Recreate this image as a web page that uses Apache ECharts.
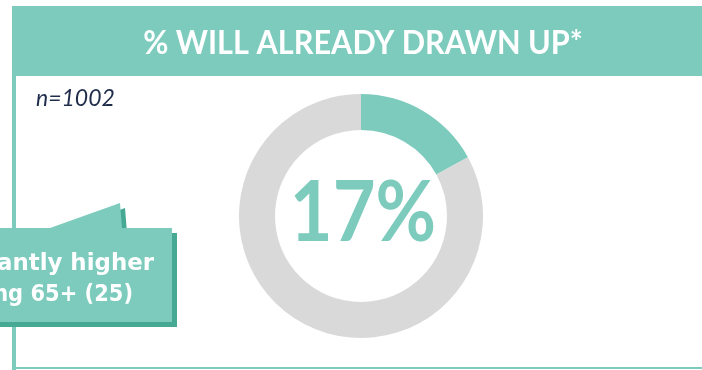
<!DOCTYPE html>
<html>
<head>
<meta charset="utf-8">
<script src="https://cdn.jsdelivr.net/npm/echarts@6/dist/echarts.min.js"></script>
<style>
  html, body { margin: 0; padding: 0; background: #ffffff; }
  #chart { width: 702px; height: 370px; }
</style>
</head>
<body>
<div id="chart"></div>
<script>
// Share of respondents who have already drawn up a will
const sliceNames = ['Drawn up', 'Not drawn up'];
const slicePct = [17, 83];
const sampleLabel = 'n=1002';
const headline = '% WILL ALREADY DRAWN UP*';
const calloutLines = ['Significantly higher', 'among 65+ (25)'];

const TEAL = '#7ccbbd';
const TEAL_DARK = '#45a994';
const GREY = '#d9d9d9';
const FONT = 'Lato, "Open Sans", sans-serif';
const WIDE = '"DejaVu Sans", Lato, sans-serif';

const chart = echarts.init(document.getElementById('chart'), null, { renderer: 'canvas' });

chart.setOption({
  animation: false,
  backgroundColor: '#ffffff',
  series: [{
    type: 'pie',
    center: [361, 216],
    radius: [86, 122],
    startAngle: 90,
    clockwise: true,
    silent: true,
    label: { show: false },
    labelLine: { show: false },
    itemStyle: { borderWidth: 0 },
    data: sliceNames.map((n, i) => ({
      name: n,
      value: slicePct[i],
      itemStyle: { color: i === 0 ? TEAL : GREY }
    }))
  }],
  graphic: [
    // panel frame: left rule and bottom rule
    { type: 'rect', shape: { x: 12, y: 6, width: 4, height: 364 }, style: { fill: TEAL }, z: 1 },
    { type: 'rect', shape: { x: 12, y: 367, width: 690, height: 2 }, style: { fill: TEAL }, z: 1 },
    // headline band
    { type: 'rect', shape: { x: 12, y: 6, width: 690, height: 70 }, style: { fill: TEAL }, z: 2 },
    {
      type: 'text', x: 363, y: 43, z: 3, scaleX: 0.93,
      style: {
        text: headline, fill: '#ffffff',
        font: 'bold 33px ' + FONT,
        textAlign: 'center', textVerticalAlign: 'middle'
      }
    },
    // sample size
    {
      type: 'text', x: 36, y: 99, z: 3,
      style: {
        text: sampleLabel, fill: '#1f2d4a',
        font: 'italic 23px ' + FONT,
        textAlign: 'left', textVerticalAlign: 'middle'
      }
    },
    // centre figure
    {
      type: 'text', x: 363, y: 214, z: 5, scaleX: 0.88,
      style: {
        text: slicePct[0] + '%', fill: TEAL,
        font: 'bold 84px ' + FONT,
        textAlign: 'center', textVerticalAlign: 'middle'
      }
    },
    // callout shadow
    {
      type: 'polygon', z: 6,
      shape: { points: [[-10, 233], [55, 233], [125, 208], [127, 233], [177, 233], [177, 327], [-10, 327]] },
      style: { fill: TEAL_DARK }
    },
    // callout body
    {
      type: 'polygon', z: 7,
      shape: { points: [[-10, 228], [50, 228], [120, 203], [122, 228], [172, 228], [172, 322], [-10, 322]] },
      style: { fill: TEAL }
    },
    {
      type: 'text', x: 154, y: 275, z: 8, scaleX: 1.09, scaleY: 1.06,
      style: {
        text: calloutLines[0], fill: '#ffffff',
        font: 'bold 21px ' + WIDE,
        textAlign: 'right', textVerticalAlign: 'bottom'
      }
    },
    {
      type: 'text', x: 133, y: 306, z: 8, scaleY: 1.06,
      style: {
        text: calloutLines[1], fill: '#ffffff',
        font: 'bold 21px ' + WIDE,
        textAlign: 'right', textVerticalAlign: 'bottom'
      }
    }
  ]
});
</script>
</body>
</html>
